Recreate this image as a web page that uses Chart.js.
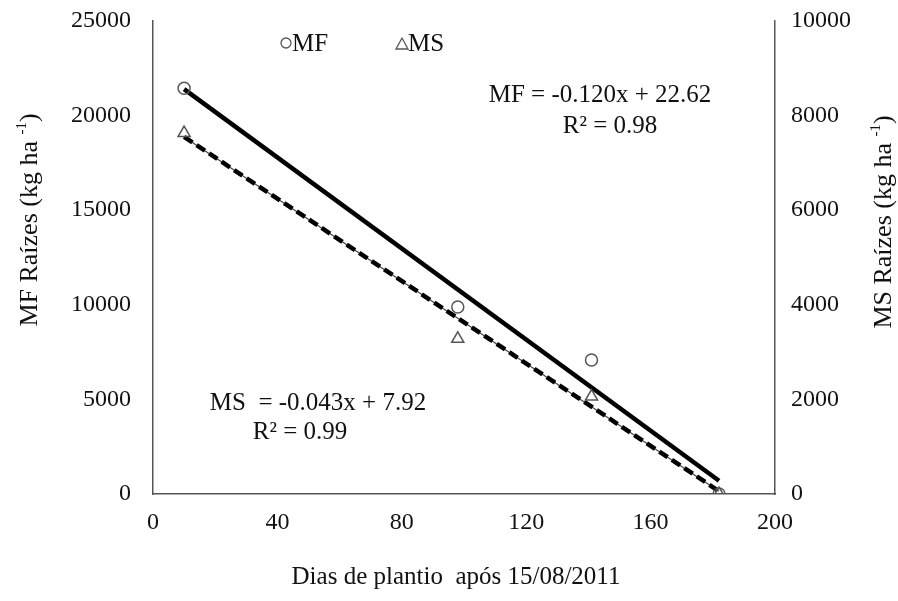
<!DOCTYPE html>
<html>
<head>
<meta charset="utf-8">
<script src="https://cdn.jsdelivr.net/npm/chart.js@4.4.0/dist/chart.umd.min.js"></script>
<style>
  html, body { margin: 0; padding: 0; background: #fff; }
  #wrap { width: 898px; height: 601px; position: relative; }
</style>
</head>
<body>
<div id="wrap"><canvas id="myChart"></canvas></div>
<script>
// dias após plantio
const dias = [10, 98, 141, 182];
// MF raízes (kg/ha), eixo esquerdo
const mfValues = [21450, 9880, 7080, 0];
// MS raízes (kg/ha), eixo direito
const msValues = [7630, 3280, 2060, 0];

// retas de regressão (início e fim)
const fitDias = [10, 182];
const mfFit = [21400, 700];
const msFit = [7550, 60];

const xTicks = [0, 40, 80, 120, 160, 200];
const leftTicks = [0, 5000, 10000, 15000, 20000, 25000];
const rightTicks = [0, 2000, 4000, 6000, 8000, 10000];

const serif = "'Liberation Serif', 'Times New Roman', serif";
const axisColor = '#555';
const textColor = '#111';

function pts(xs, ys) {
  return xs.map((x, i) => ({ x: x, y: ys[i] }));
}

// título vertical com expoente "-1"
function vTitle(c, main, sup, cx, cy) {
  c.save();
  c.translate(cx, cy);
  c.rotate(-Math.PI / 2);
  c.font = '26px ' + serif;
  const w1 = c.measureText(main).width;
  c.font = '15px ' + serif;
  const w2 = c.measureText(sup).width;
  c.font = '26px ' + serif;
  const w3 = c.measureText(')').width;
  let x0 = -(w1 + w2 + w3) / 2;
  c.textAlign = 'left';
  c.textBaseline = 'middle';
  c.fillText(main, x0, 0);
  c.font = '15px ' + serif;
  c.fillText(sup, x0 + w1, -8);
  c.font = '26px ' + serif;
  c.fillText(')', x0 + w1 + w2, 0);
  c.restore();
}

// textos: títulos, equações e legenda
const annotations = {
  id: 'annotations',
  afterDraw(chart) {
    const c = chart.ctx;
    c.save();
    c.fillStyle = textColor;
    c.font = '25px ' + serif;
    c.textAlign = 'center';
    c.textBaseline = 'middle';
    c.fillText('MF = -0.120x + 22.62', 600, 95);
    c.fillText('R² = 0.98', 610, 126);
    c.fillText('MS  = -0.043x + 7.92', 318, 403);
    c.fillText('R² = 0.99', 300, 432);

    c.fillText('Dias de plantio  após 15/08/2011', 456, 577);
    vTitle(c, 'MF Raízes (kg ha ', '-1', 30, 220);
    vTitle(c, 'MS Raízes (kg ha ', '-1', 884, 222);

    // legenda
    c.textAlign = 'left';
    c.strokeStyle = '#555';
    c.lineWidth = 1.3;
    c.beginPath();
    c.arc(286, 43, 5, 0, Math.PI * 2);
    c.stroke();
    c.fillText('MF', 292, 44);
    c.beginPath();
    c.moveTo(396, 49);
    c.lineTo(402, 38);
    c.lineTo(408, 49);
    c.closePath();
    c.stroke();
    c.fillText('MS', 408, 44);
    c.restore();
  }
};

const tickFont = { family: serif, size: 24 };
const plain = v => String(v);

const ctx = document.getElementById('myChart');

new Chart(ctx, {
  type: 'scatter',
  data: {
    datasets: [
      {
        label: 'MF ajuste',
        data: pts(fitDias, mfFit),
        showLine: true,
        borderColor: '#000',
        borderWidth: 4.5,
        pointRadius: 0,
        yAxisID: 'y',
        order: 3
      },
      {
        label: 'MS ajuste base',
        data: pts(fitDias, msFit),
        showLine: true,
        borderColor: '#444',
        borderWidth: 1.2,
        pointRadius: 0,
        yAxisID: 'y2',
        order: 4
      },
      {
        label: 'MS ajuste',
        data: pts(fitDias, msFit),
        showLine: true,
        borderColor: '#000',
        borderWidth: 4.5,
        borderDash: [10, 5],
        pointRadius: 0,
        yAxisID: 'y2',
        order: 3
      },
      {
        label: 'MF',
        data: pts(dias, mfValues),
        showLine: false,
        pointStyle: 'circle',
        pointRadius: 6,
        pointBorderWidth: 1.5,
        pointBorderColor: '#555',
        pointBackgroundColor: 'rgba(255,255,255,0)',
        yAxisID: 'y',
        order: 1
      },
      {
        label: 'MS',
        data: pts(dias, msValues),
        showLine: false,
        pointStyle: 'triangle',
        pointRadius: 7,
        pointBorderWidth: 1.5,
        pointBorderColor: '#555',
        pointBackgroundColor: 'rgba(255,255,255,0)',
        yAxisID: 'y2',
        order: 1
      }
    ]
  },
  options: {
    responsive: true,
    maintainAspectRatio: false,
    animation: false,
    layout: { padding: { top: 21, right: 0, left: 0, bottom: 0 } },
    plugins: {
      legend: { display: false },
      tooltip: { enabled: false }
    },
    scales: {
      x: {
        type: 'linear',
        min: 0,
        max: 200,
        afterBuildTicks: s => { s.ticks = xTicks.map(v => ({ value: v })); },
        afterFit: s => { s.height = 107; s.paddingLeft = 0; s.paddingRight = 0; },
        grid: { display: false, drawTicks: true, tickLength: 6, color: axisColor },
        border: { color: axisColor, width: 1.5 },
        ticks: { color: textColor, font: tickFont, padding: 8, callback: plain }
      },
      y: {
        position: 'left',
        min: 0,
        max: 25000,
        afterBuildTicks: s => { s.ticks = leftTicks.map(v => ({ value: v })); },
        afterFit: s => { s.width = 153; s.paddingTop = 0; s.paddingBottom = 0; },
        grid: { display: false, drawTicks: true, tickLength: 6, color: axisColor },
        border: { color: axisColor, width: 1.5 },
        ticks: { color: textColor, font: tickFont, padding: 16, callback: plain }
      },
      y2: {
        position: 'right',
        min: 0,
        max: 10000,
        afterBuildTicks: s => { s.ticks = rightTicks.map(v => ({ value: v })); },
        afterFit: s => { s.width = 123; s.paddingTop = 0; s.paddingBottom = 0; },
        grid: { display: false, drawTicks: true, tickLength: 6, color: axisColor },
        border: { color: axisColor, width: 1.5 },
        ticks: { color: textColor, font: tickFont, padding: 10, callback: plain }
      }
    }
  },
  plugins: [annotations]
});
</script>
</body>
</html>
